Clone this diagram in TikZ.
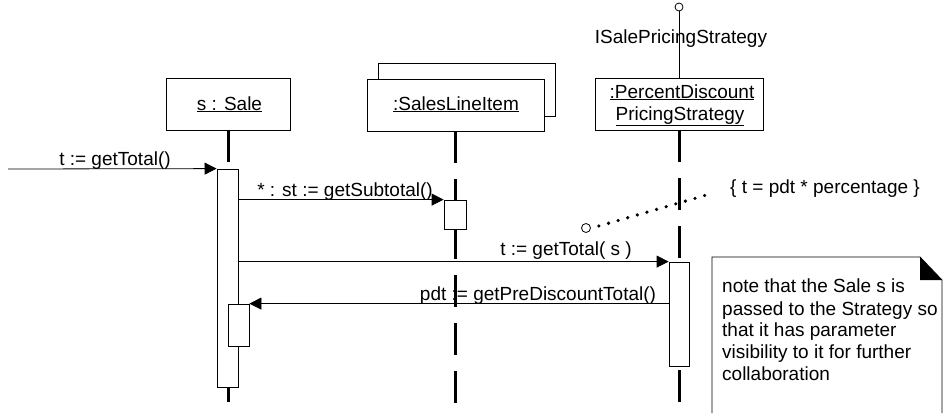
\documentclass[tikz,border=0pt]{standalone}
\usepackage{fontspec}
\setmainfont{Liberation Sans}
\usetikzlibrary{arrows.meta}
\begin{document}
\begin{tikzpicture}[x=1pt,y=-1pt,
  txt/.style={font=\fontsize{19}{22}\selectfont, inner sep=0pt},
  obj/.style={draw, line width=0.8pt, fill=white, inner sep=0pt, txt, align=center},
  act/.style={draw, line width=0.8pt, fill=white, inner sep=0pt},
  life/.style={line width=3pt, dash pattern=on 32pt off 16pt},
  msg/.style={line width=0.8pt, -{Triangle[length=12pt,width=12pt]}},
  lbl/.style={txt, anchor=base},
  dots/.style={line width=3.6pt, line cap=round, dash pattern=on 0pt off 10pt},
  ball/.style={circle, draw, line width=0.8pt, fill=white, inner sep=0pt, minimum size=9pt}]
\useasboundingbox (0,0) rectangle (944,413);
\fill[white] (0,0) rectangle (944,413);

% objects
\node[obj, minimum width=124pt, minimum height=52pt] (sale) at (228,104) {};
\node[txt, anchor=base] (saleT) at (229.5,110) {\underline{s : Sale}};
\node[obj, minimum width=177pt, minimum height=53pt] (sliback) at (466.5,89.5) {};
\node[obj, minimum width=177pt, minimum height=52pt] (sli) at (455.5,105) {};
\node[txt, anchor=base] (sliT) at (456,110) {\underline{:SalesLineItem}};
\node[obj, minimum width=168pt, minimum height=52pt] (pds) at (679,104) {};
\node[txt, anchor=base] (pdsT1) at (682,98) {\underline{:PercentDiscount}};
\node[txt, anchor=base] (pdsT2) at (680,120) {\underline{PricingStrategy}};

% interface
\node[ball, minimum size=8pt] (iface) at (679,7) {};
\draw[line width=0.8pt] (iface) -- (pds.north);
\node[lbl] (ifaceT) at (681,43) {ISalePricingStrategy};

% lifeline ends
\coordinate (e1) at (228,407);
\coordinate (e2) at (455,407);
\coordinate (e3) at (679,407);
\draw[life] (228,130) -- (e1);
\draw[life] (455,131) -- (e2);
\draw[life] (679,130) -- (e3);

% activations
\node[act, minimum width=21pt, minimum height=218pt] (a1) at (227.5,278) {};
\node[act, minimum width=21pt, minimum height=42pt] (a2) at (238.5,325) {};
\node[act, minimum width=22pt, minimum height=29pt] (a3) at (455,214.5) {};
\node[act, minimum width=20pt, minimum height=104pt] (a4) at (679,314) {};

% messages
\coordinate (m1s) at (8,169);
\draw[msg] (m1s) -- (a1.north west);
\node[lbl] (m1T) at (115,165) {t := getTotal()};
\draw[msg] (a1.east |- a3.north) -- (a3.north west);
\node[lbl] (m2T) at (345,196) {* : st := getSubtotal()};
\draw[msg] (a1.east |- a4.north) -- (a4.north west);
\node[lbl] (m3T) at (566,255) {t := getTotal( s )};
\draw[msg] (a4.west |- a2.north) -- (a2.north east);
\node[lbl] (m4T) at (538,300) {pdt := getPreDiscountTotal()};

% constraint
\node[ball] (cc) at (586,228) {};
\coordinate (ce) at (710,194);
\draw[dots] (cc.east) ++(8,-2) -- (ce);
\node[txt, anchor=base west] (consT) at (730,193) {\{ t = pdt * percentage \}};

% note
\coordinate (n1) at (712,413);
\coordinate (n2) at (712,257);
\coordinate (n3) at (920,257);
\coordinate (n4) at (942,280);
\coordinate (n5) at (942,413);
\draw[line width=0.8pt] (n1) -- (n2) -- (n3) -- (n4) -- (n5);
\fill (n3) -- (n3 |- n4) -- (n4) -- cycle;
\node[txt, anchor=base west] (noteT1) at (722,292) {note that the Sale s is};
\node[txt, anchor=base west] (noteT2) at (722,315) {passed to the Strategy so};
\node[txt, anchor=base west] (noteT3) at (722,336) {that it has parameter};
\node[txt, anchor=base west] (noteT4) at (722,358) {visibility to it for further};
\node[txt, anchor=base west] (noteT5) at (722,380) {collaboration};
\end{tikzpicture}
\end{document}
